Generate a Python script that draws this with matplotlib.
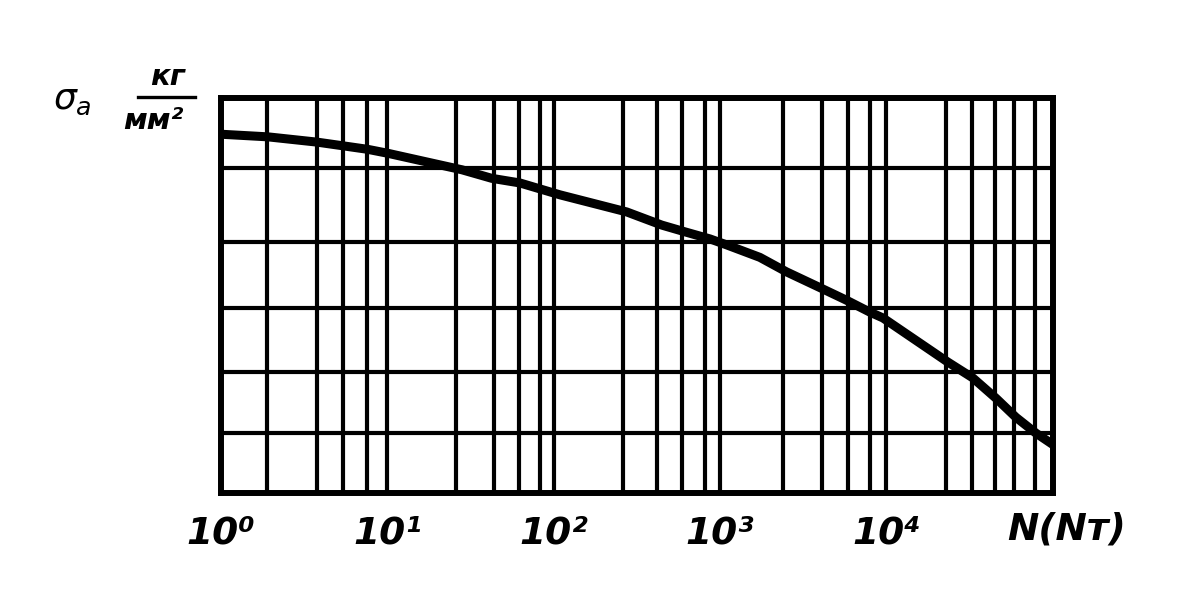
import matplotlib
matplotlib.use('Agg')
import matplotlib.pyplot as plt
from matplotlib.lines import Line2D

# fatigue curve (N log scale, sigma_a in grid units)
n_cycles = [1, 1.92, 3.78, 5.56, 7.65, 10.1, 28.1, 42.5, 62.7, 109, 275, 447,
            631, 871, 1096, 1738, 2512, 4074, 5754, 7943, 9550, 23440, 33110,
            45700, 60260, 79430, 100000]
sigma_a = [5.45, 5.41, 5.33, 5.27, 5.22, 5.16, 4.91, 4.78, 4.71, 4.53, 4.27,
           4.07, 3.96, 3.86, 3.77, 3.58, 3.36, 3.11, 2.93, 2.75, 2.66, 1.99,
           1.75, 1.44, 1.15, 0.91, 0.74]

# hand-drawn grid lines
decades = [1, 10, 100, 1000, 10000, 100000]
x_grid = [1.9, 3.8, 5.4, 7.5,
          26, 44, 62, 83,
          260, 420, 590, 810,
          2400, 4100, 5900, 8000,
          23000, 33000, 45000, 59000, 78000]
y_grid = [0.91, 1.84, 2.81, 3.81, 4.94]
tick_labels = ['10\u2070', '10\u00b9', '10\u00b2', '10\u00b3', '10\u2074']

fig = plt.figure(figsize=(11.88, 6.05), dpi=100)
ax = fig.add_axes([0.186, 0.185, 0.700, 0.653])

for x in x_grid + decades[1:-1]:
    ax.axvline(x, color='black', lw=3.0, zorder=1)
for y in y_grid:
    ax.axhline(y, color='black', lw=3.0, zorder=1)

ax.plot(n_cycles, sigma_a, color='black', lw=6.5, solid_capstyle='butt', zorder=3)

ax.set_xscale('log')
ax.set_xlim(1, 100000)
ax.set_ylim(0, 6)
ax.set_xticks(decades[:-1])
ax.set_xticklabels(tick_labels)
ax.minorticks_off()
ax.set_yticks([])
ax.tick_params(axis='x', length=0, pad=16)
for lbl in ax.get_xticklabels():
    lbl.set_fontsize(27)
    lbl.set_fontstyle('italic')
    lbl.set_fontweight('bold')
for s in ax.spines.values():
    s.set_linewidth(4.3)

fig.text(0.898, 0.125, 'N(N\u1d1b)', fontsize=27, fontstyle='italic', fontweight='bold',
         ha='center', va='center')

# axis label: sigma_a  kg / mm^2
fig.text(0.061, 0.835, r'$\sigma_a$', fontsize=26, ha='center', va='center')
fig.text(0.141, 0.872, 'кг', fontsize=21, fontstyle='italic', fontweight='bold',
         ha='center', va='center')
fig.text(0.129, 0.800, 'мм²', fontsize=21, fontstyle='italic', fontweight='bold',
         ha='center', va='center')
fig.add_artist(Line2D([0.116, 0.164], [0.840, 0.840], color='black', lw=2.4,
                      transform=fig.transFigure))

fig.savefig('out.png', dpi=100)
